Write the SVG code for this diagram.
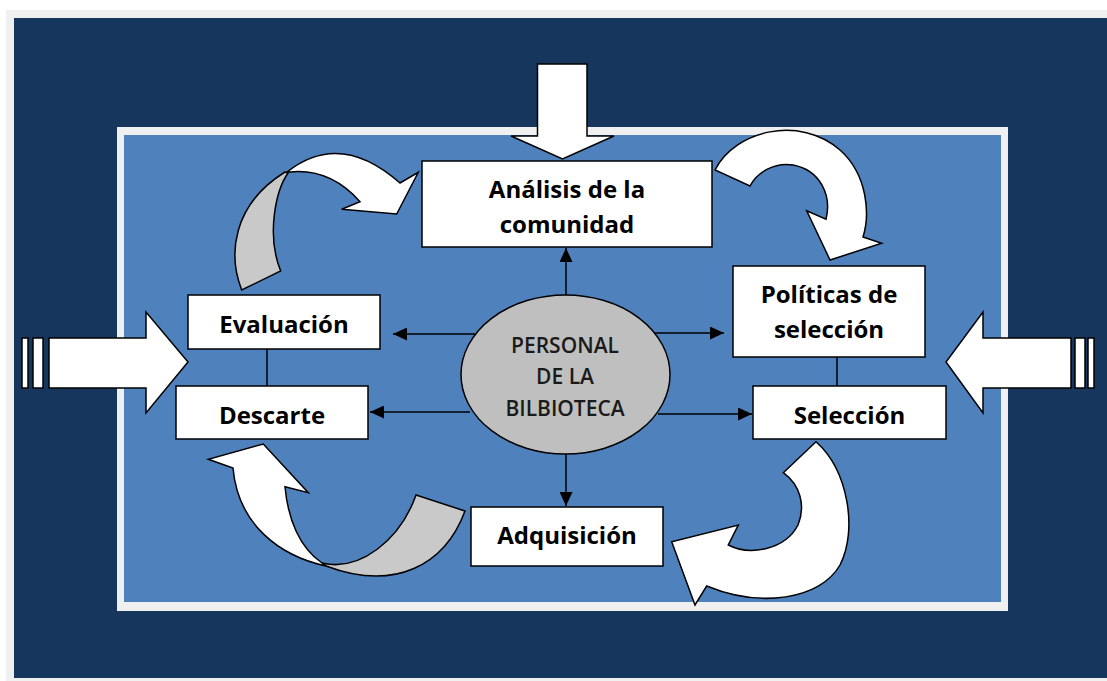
<svg xmlns="http://www.w3.org/2000/svg" width="1107" height="681" viewBox="0 0 1107 681">
<style>
.box{fill:#ffffff;stroke:#000000;stroke-width:1.5}
.blk{fill:#ffffff;stroke:#000000;stroke-width:1.5;stroke-linejoin:miter}
.gry{fill:#c9c9c9;stroke:#000000;stroke-width:1.5}
.lbl{font-family:"Open Sans","Liberation Sans",sans-serif;font-weight:bold;font-size:24px;fill:#000000;text-anchor:middle}
.ell{font-family:"Open Sans","Liberation Sans",sans-serif;font-weight:600;font-size:21px;fill:#1a1a1a;text-anchor:middle}
.con{fill:none;stroke:#000000;stroke-width:1.5}
</style>
<defs>
<marker id="ah" viewBox="0 0 14 13" refX="14" refY="6.5" markerWidth="14" markerHeight="13" markerUnits="userSpaceOnUse" orient="auto">
<path d="M0,0 L14,6.5 L0,13 z" fill="#000000"/>
</marker>
</defs>
<rect x="0" y="0" width="1107" height="681" fill="#ffffff"/>
<rect x="6" y="10" width="1101" height="671" fill="#f0f0f0"/>
<rect x="14" y="18" width="1093" height="660" fill="#17365d"/>
<rect x="117" y="127" width="891" height="484" fill="#f0f0f0"/>
<rect x="124" y="135" width="877" height="467" fill="#4f81bd"/>

<g id="big-arrows">
<path class="blk" d="M537.5,64 L587,64 L587,136 L614,136 L562.5,159 L511,136 L537.5,136 Z"/>
<rect class="blk" x="22" y="338" width="6" height="50"/>
<rect class="blk" x="33" y="338" width="10" height="50"/>
<path class="blk" d="M49,338 L146,338 L146,312 L188,362 L146,413 L146,388 L49,388 Z"/>
<rect class="blk" x="1088" y="338" width="6" height="50"/>
<rect class="blk" x="1075" y="338" width="10" height="50"/>
<path class="blk" d="M1071,338 L983,338 L983,312 L946,362 L983,413 L983,388 L1071,388 Z"/>
</g>

<g id="curved-arrows">
<path class="gry" d="M241.7,290 C228,255 232,205 285,172 L288,173 C276,190 266,235 280.7,271 Z"/>
<path class="blk" d="M287,172 Q340,130 400,183 L418.3,172.3 L396.7,214 L341.7,209.3 L360,201.7 Q330,168 290,172 Z"/>
<path class="blk" d="M715,170 C735,130 800,115 840,150 C868,175 870,215 863,237 L881.7,243.3 L830,260 L806.7,210.7 L826,219.3 C832,195 820,170 793,165 C775,162 757,172 750,186 Z"/>
<path class="gry" d="M416,495 L465,511 C445,565 395,592 326,566 L322,563 C360,572 400,540 416,495 Z"/>
<path class="blk" d="M326,566 C280,556 238,525 233,468 L208.3,459.3 L263.3,444 L308.3,492.7 L285,486.7 C288,520 300,548 322,563 Z"/>
<path class="blk" d="M783.3,472.7 L816,441.7 C848,470 858,530 840,565 C820,600 760,608 706.7,586 L695,605 L671.7,541.7 L738.3,525 L728.3,545 C750,556 785,550 798,525 C806,505 800,485 783.3,472.7 Z"/>
</g>

<g id="connectors">
<path class="con" d="M267,349 L267,386"/>
<path class="con" d="M837,357 L837,386"/>
<path class="con" d="M566,295 L566,248" marker-end="url(#ah)"/>
<path class="con" d="M475,334 L393,334" marker-end="url(#ah)"/>
<path class="con" d="M470,412 L370,412" marker-end="url(#ah)"/>
<path class="con" d="M653,333 L724,333" marker-end="url(#ah)"/>
<path class="con" d="M658,414 L752,414" marker-end="url(#ah)"/>
<path class="con" d="M566,454 L566,506" marker-end="url(#ah)"/>
</g>

<g id="node-analisis">
<rect class="box" x="422" y="161" width="290" height="86"/>
<text class="lbl" x="567" y="198">Análisis de la</text>
<text class="lbl" x="567" y="233">comunidad</text>
</g>
<g id="node-politicas">
<rect class="box" x="733" y="266" width="192" height="91"/>
<text class="lbl" x="829" y="303">Políticas de</text>
<text class="lbl" x="829" y="338">selección</text>
</g>
<g id="node-seleccion">
<rect class="box" x="753" y="386" width="193" height="53"/>
<text class="lbl" x="849.5" y="424">Selección</text>
</g>
<g id="node-evaluacion">
<rect class="box" x="188" y="295" width="192" height="54"/>
<text class="lbl" x="284" y="333">Evaluación</text>
</g>
<g id="node-descarte">
<rect class="box" x="176" y="386" width="192" height="53"/>
<text class="lbl" x="272" y="424">Descarte</text>
</g>
<g id="node-adquisicion">
<rect class="box" x="471" y="507" width="192" height="59"/>
<text class="lbl" x="567" y="544">Adquisición</text>
</g>
<g id="node-personal">
<ellipse cx="565.5" cy="374.5" rx="104.5" ry="79.5" fill="#bfbfbf" stroke="#000000" stroke-width="1.5"/>
<text class="ell" x="565" y="353">PERSONAL</text>
<text class="ell" x="565" y="384">DE LA</text>
<text class="ell" x="565" y="416">BILBIOTECA</text>
</g>
</svg>
